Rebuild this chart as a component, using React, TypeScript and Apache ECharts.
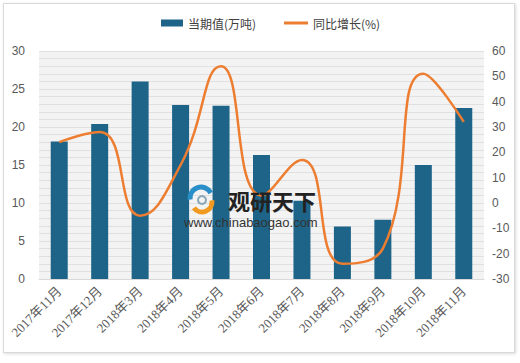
import React, { useEffect, useRef } from "react";
import * as echarts from "echarts";

const categories = [
  "2017年11月", "2017年12月", "2018年3月", "2018年4月", "2018年5月", "2018年6月",
  "2018年7月", "2018年8月", "2018年9月", "2018年10月", "2018年11月",
];
const currentValues = [18.1, 20.4, 26.0, 22.9, 22.8, 16.3, 10.3, 6.9, 7.8, 15.0, 22.5];
const yoyGrowth = [24, 28, -5, 15, 54, 3, 17, -24, -18, 51, 32];
const barName = "当期值(万吨)";
const lineName = "同比增长(%)";

export default function App() {
  const ref = useRef<HTMLDivElement>(null);
  useEffect(() => {
    if (!ref.current) return;
    const chart = echarts.init(ref.current, undefined, { renderer: "svg" });
    const axisText = { color: "#595959", fontSize: 12, fontFamily: "Liberation Sans, Arial, sans-serif" };
    const legendText = { color: "#404040", fontSize: 12, fontFamily: "Noto Sans CJK SC, sans-serif" };
    chart.setOption({
      animation: false,
      backgroundColor: "#ffffff",
      legend: [
        {
          left: 155,
          top: 11,
          itemWidth: 22,
          itemHeight: 7,
          itemGap: 4,
          textStyle: legendText,
          data: [{ name: barName, icon: "rect" }],
        },
        {
          left: 278,
          top: 11,
          itemWidth: 24,
          itemHeight: 3,
          itemGap: 4,
          textStyle: legendText,
          data: [{ name: lineName, icon: "rect" }],
        },
      ],
      grid: {
        left: 38,
        right: 37,
        top: 50,
        bottom: 85,
        show: true,
        backgroundColor: "#f3f3f3",
        borderWidth: 0,
      },
      xAxis: {
        type: "category",
        data: categories,
        axisLine: { show: true, lineStyle: { color: "#d9d9d9" } },
        axisTick: { show: false },
        axisLabel: {
          interval: 0,
          rotate: 45,
          margin: 10,
          color: "#595959",
          fontSize: 13,
          fontFamily: "Liberation Serif, Times New Roman, Noto Sans CJK SC, serif",
        },
      },
      yAxis: [
        {
          type: "value",
          min: 0,
          max: 30,
          interval: 1,
          axisLine: { show: false },
          axisTick: { show: false },
          axisLabel: {
            ...axisText,
            margin: 14,
            formatter: (v: number) => (v % 5 === 0 ? String(v) : ""),
          },
          splitLine: { show: true, lineStyle: { color: "#e0e0e0", width: 1 } },
        },
        {
          type: "value",
          min: -30,
          max: 60,
          interval: 10,
          axisLine: { show: false },
          axisTick: { show: false },
          axisLabel: { ...axisText, margin: 8 },
          splitLine: { show: false },
        },
      ],
      series: [
        {
          name: barName,
          type: "bar",
          data: currentValues,
          barWidth: 17,
          itemStyle: { color: "#1d6488" },
          yAxisIndex: 0,
        },
        {
          name: lineName,
          type: "line",
          data: yoyGrowth,
          yAxisIndex: 1,
          smooth: 0.5,
          symbol: "none",
          lineStyle: { color: "#ed7d31", width: 2.5 },
          itemStyle: { color: "#ed7d31" },
          z: 5,
        },
      ],
      graphic: [
        { type: "arc", z: 100, shape: { cx: 200, cy: 197, r: 11, startAngle: Math.PI * 0.95, endAngle: Math.PI * 1.85 }, style: { stroke: "#2a8fc8", lineWidth: 5, fill: "none" } },
        { type: "arc", z: 100, shape: { cx: 201, cy: 201, r: 10, startAngle: Math.PI * 1.95, endAngle: Math.PI * 0.8 }, style: { stroke: "#f29a1f", lineWidth: 5, fill: "none" } },
        { type: "arc", z: 100, shape: { cx: 201, cy: 199, r: 4, startAngle: 0, endAngle: Math.PI * 2 }, style: { stroke: "#8aa7b8", lineWidth: 2, fill: "none" } },
        { type: "text", z: 100, x: 227, y: 188, style: { text: "观研天下", fontSize: 22, fontWeight: "bold", fill: "#222222", fontFamily: "Noto Sans CJK SC, sans-serif" } },
        { type: "text", z: 100, x: 183, y: 215, style: { text: "www.chinabaogao.com", fontSize: 13, fill: "#333333", fontFamily: "Liberation Sans, Arial, sans-serif" } },
      ],
    });
    return () => chart.dispose();
  }, []);
  return (
    <div
      style={{
        position: "absolute",
        left: 0,
        top: 0,
        width: 520,
        height: 363,
        background: "#ffffff",
      }}
    >
      <div
        style={{
          position: "absolute",
          left: 3,
          top: 3,
          width: 510,
          height: 348,
          border: "1px solid #d9d9d9",
          boxShadow: "1px 1px 3px rgba(0,0,0,0.15)",
          overflow: "hidden",
        }}
      >
        <div ref={ref} style={{ position: "absolute", left: -3, top: -3, width: 520, height: 363 }} />
      </div>
    </div>
  );
}
